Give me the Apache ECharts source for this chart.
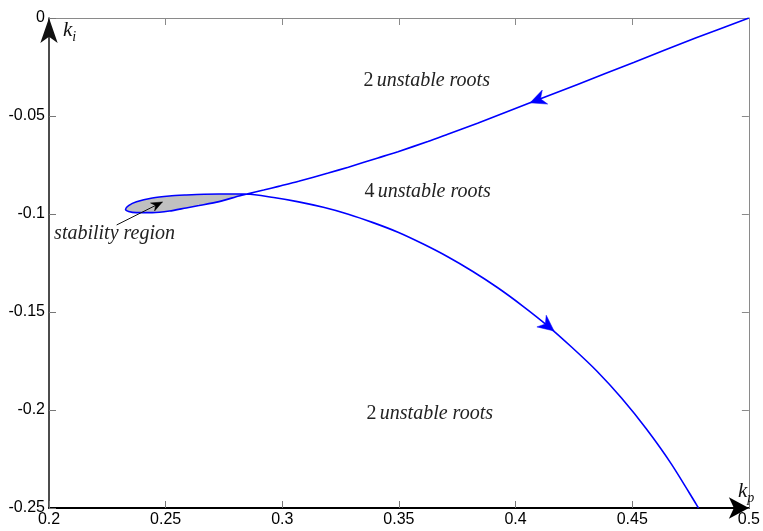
<!DOCTYPE html>
<html>
<head>
<meta charset="utf-8">
<script src="https://cdn.jsdelivr.net/npm/echarts@6/dist/echarts.min.js"></script>
<style>
  html, body { margin: 0; padding: 0; background: #fff; }
  #chart { width: 763px; height: 531px; }
</style>
</head>
<body>
<div id="chart"></div>
<script>
// axis ranges (kp horizontal, ki vertical)
const xMin = 0.2, xMax = 0.5, xStep = 0.05
const yMin = -0.25, yMax = 0, yStep = 0.05

// root locus boundary, traced in drawing order
const upperBranch = [
  [0.5000, 0], [0.4774, -0.0101], [0.4506, -0.0227], [0.4263, -0.0340],
  [0.4062, -0.0433], [0.3837, -0.0537], [0.3709, -0.0593], [0.3624, -0.0630],
  [0.3496, -0.0682], [0.3410, -0.0714], [0.3283, -0.0761], [0.3197, -0.0791],
  [0.3070, -0.0833], [0.2984, -0.0859], [0.2920, -0.0878], [0.2848, -0.0898]
]
const loopLower = [
  [0.2814, -0.0908], [0.2729, -0.0937], [0.2643, -0.0957], [0.2588, -0.0969],
  [0.2516, -0.0985], [0.2443, -0.0993], [0.2375, -0.0993], [0.2341, -0.0987],
  [0.2328, -0.0976]
]
const loopUpper = [
  [0.2341, -0.0957], [0.2375, -0.0937], [0.2443, -0.0918], [0.2516, -0.0908],
  [0.2588, -0.0903], [0.2665, -0.0899], [0.2729, -0.0898], [0.2793, -0.0898],
  [0.2848, -0.0898]
]
const lowerBranch = [
  [0.2963, -0.0916], [0.3070, -0.0938], [0.3176, -0.0966], [0.3283, -0.1001],
  [0.3389, -0.1044], [0.3496, -0.1093], [0.3602, -0.1152], [0.3709, -0.1218],
  [0.3815, -0.1292], [0.3922, -0.1375], [0.4028, -0.1467], [0.4135, -0.1568],
  [0.4241, -0.1680], [0.4348, -0.1801], [0.4454, -0.1939], [0.4561, -0.2097],
  [0.4668, -0.2276], [0.4774, -0.2480], [0.4784, -0.2500]
]

// direction arrows on the curve: [tipX, tipY, fromX, fromY]
const curveArrows = [
  [0.4062, -0.0433, 0.4263, -0.0340],
  [0.4165, -0.1597, 0.4028, -0.1467]
]

// text annotations: [x, y, text]
const notes = [
  [0.3619, -0.0321, '{n|2} {i|unstable roots}'],
  [0.3623, -0.0888, '{n|4} {i|unstable roots}'],
  [0.3632, -0.2020, '{n|2} {i|unstable roots}'],
  [0.2281, -0.1102, '{i|stability region}']
]
// pointer from the label to the region: [tailX, tailY, tipX, tipY]
const pointer = [[0.2290, -0.1056, 0.2486, -0.0939]]
// axis names: [x, y, text]
const axisNames = [
  [0.2060, -0.0066, '{k|k}{s|i}'],
  [0.4953, -0.2418, '{k|k}{s|p}']
]

const curve = [...upperBranch, ...loopLower, ...loopUpper, ...lowerBranch]
const region = [[0.2848, -0.0898], ...loopLower, ...loopUpper]

const mathFont = 'Liberation Serif'
const richText = {
  n: { fontFamily: mathFont, fontSize: 20, fill: '#222' },
  i: { fontFamily: mathFont, fontSize: 20, fontStyle: 'italic', fill: '#222' },
  k: { fontFamily: mathFont, fontSize: 21, fontStyle: 'italic', fill: '#111', lineHeight: 26 },
  s: { fontFamily: mathFont, fontSize: 14, fontStyle: 'italic', fill: '#111', verticalAlign: 'bottom' }
}

function arrowHead(tip, from, len, wid, color) {
  const dx = tip[0] - from[0], dy = tip[1] - from[1]
  const d = Math.sqrt(dx * dx + dy * dy) || 1
  const ux = dx / d, uy = dy / d
  const nx = -uy, ny = ux
  const bx = tip[0] - ux * len, by = tip[1] - uy * len
  const mx = tip[0] - ux * len * 0.7, my = tip[1] - uy * len * 0.7
  return {
    type: 'polygon',
    shape: { points: [tip, [bx + nx * wid / 2, by + ny * wid / 2], [mx, my], [bx - nx * wid / 2, by - ny * wid / 2]] },
    style: { fill: color, stroke: color, lineWidth: 0.5 }
  }
}

const chart = echarts.init(document.getElementById('chart'))

const frameAxis = {
  axisLine: { show: true, lineStyle: { color: '#8a8a8a', width: 1 } },
  axisTick: { show: true, inside: true, length: 7, lineStyle: { color: '#8a8a8a' } },
  axisLabel: { show: false },
  splitLine: { show: false }
}

const option = {
  animation: false,
  grid: { left: 49, right: 10, top: 18, bottom: 23 },
  xAxis: [
    {
      type: 'value', min: xMin, max: xMax, interval: xStep,
      axisLine: { onZero: false, lineStyle: { color: '#000', width: 2 }, symbol: ['none', 'arrow'], symbolSize: [16, 20], symbolOffset: [0, 0] },
      axisTick: { inside: true, length: 7, lineStyle: { color: '#777' } },
      axisLabel: { margin: 4, color: '#000', fontFamily: 'Liberation Sans', fontSize: 16 },
      splitLine: { show: false }
    },
    Object.assign({ type: 'value', position: 'top', min: xMin, max: xMax, interval: xStep }, frameAxis)
  ],
  yAxis: [
    {
      type: 'value', min: yMin, max: yMax, interval: yStep,
      axisLine: { onZero: false, lineStyle: { color: '#111', width: 1.5 }, symbol: ['none', 'arrow'], symbolSize: [13, 25], symbolOffset: [0, 0] },
      axisTick: { inside: true, length: 7, lineStyle: { color: '#777' } },
      axisLabel: { margin: 4, color: '#000', fontFamily: 'Liberation Sans', fontSize: 16 },
      splitLine: { show: false }
    },
    Object.assign({ type: 'value', position: 'right', min: yMin, max: yMax, interval: yStep }, frameAxis)
  ],
  series: [
    {
      name: 'stability region',
      type: 'custom',
      z: 1,
      data: [[region[0][0], region[0][1]]],
      renderItem: (params, api) => ({
        type: 'polygon',
        shape: { points: region.map(p => api.coord(p)), smooth: 0.2 },
        style: { fill: '#c0c0c0' }
      })
    },
    {
      name: 'boundary',
      type: 'line',
      z: 2,
      data: curve,
      showSymbol: false,
      smooth: 0.25,
      lineStyle: { color: '#0000ff', width: 1.6 }
    },
    {
      name: 'curve arrows',
      type: 'custom',
      z: 3,
      data: curveArrows,
      renderItem: (params, api) => arrowHead(
        api.coord([api.value(0), api.value(1)]),
        api.coord([api.value(2), api.value(3)]), 16, 15, '#0000ff')
    },
    {
      name: 'pointer',
      type: 'custom',
      z: 3,
      clip: false,
      data: pointer,
      renderItem: (params, api) => {
        const tail = api.coord([api.value(0), api.value(1)])
        const tip = api.coord([api.value(2), api.value(3)])
        return {
          type: 'group',
          children: [
            { type: 'line', shape: { x1: tail[0], y1: tail[1], x2: tip[0], y2: tip[1] }, style: { stroke: '#111', lineWidth: 1 } },
            arrowHead(tip, tail, 11, 9, '#000')
          ]
        }
      }
    },
    {
      name: 'notes',
      type: 'custom',
      z: 4,
      clip: false,
      data: notes.concat(axisNames),
      renderItem: (params, api) => {
        const item = params.dataIndex < notes.length ? notes[params.dataIndex] : axisNames[params.dataIndex - notes.length]
        const p = api.coord([item[0], item[1]])
        const isName = params.dataIndex >= notes.length
        return {
          type: 'text',
          x: p[0], y: p[1],
          style: {
            text: item[2],
            rich: richText,
            align: isName ? 'left' : 'center',
            verticalAlign: 'middle'
          }
        }
      }
    }
  ]
}

chart.setOption(option)
</script>
</body>
</html>
